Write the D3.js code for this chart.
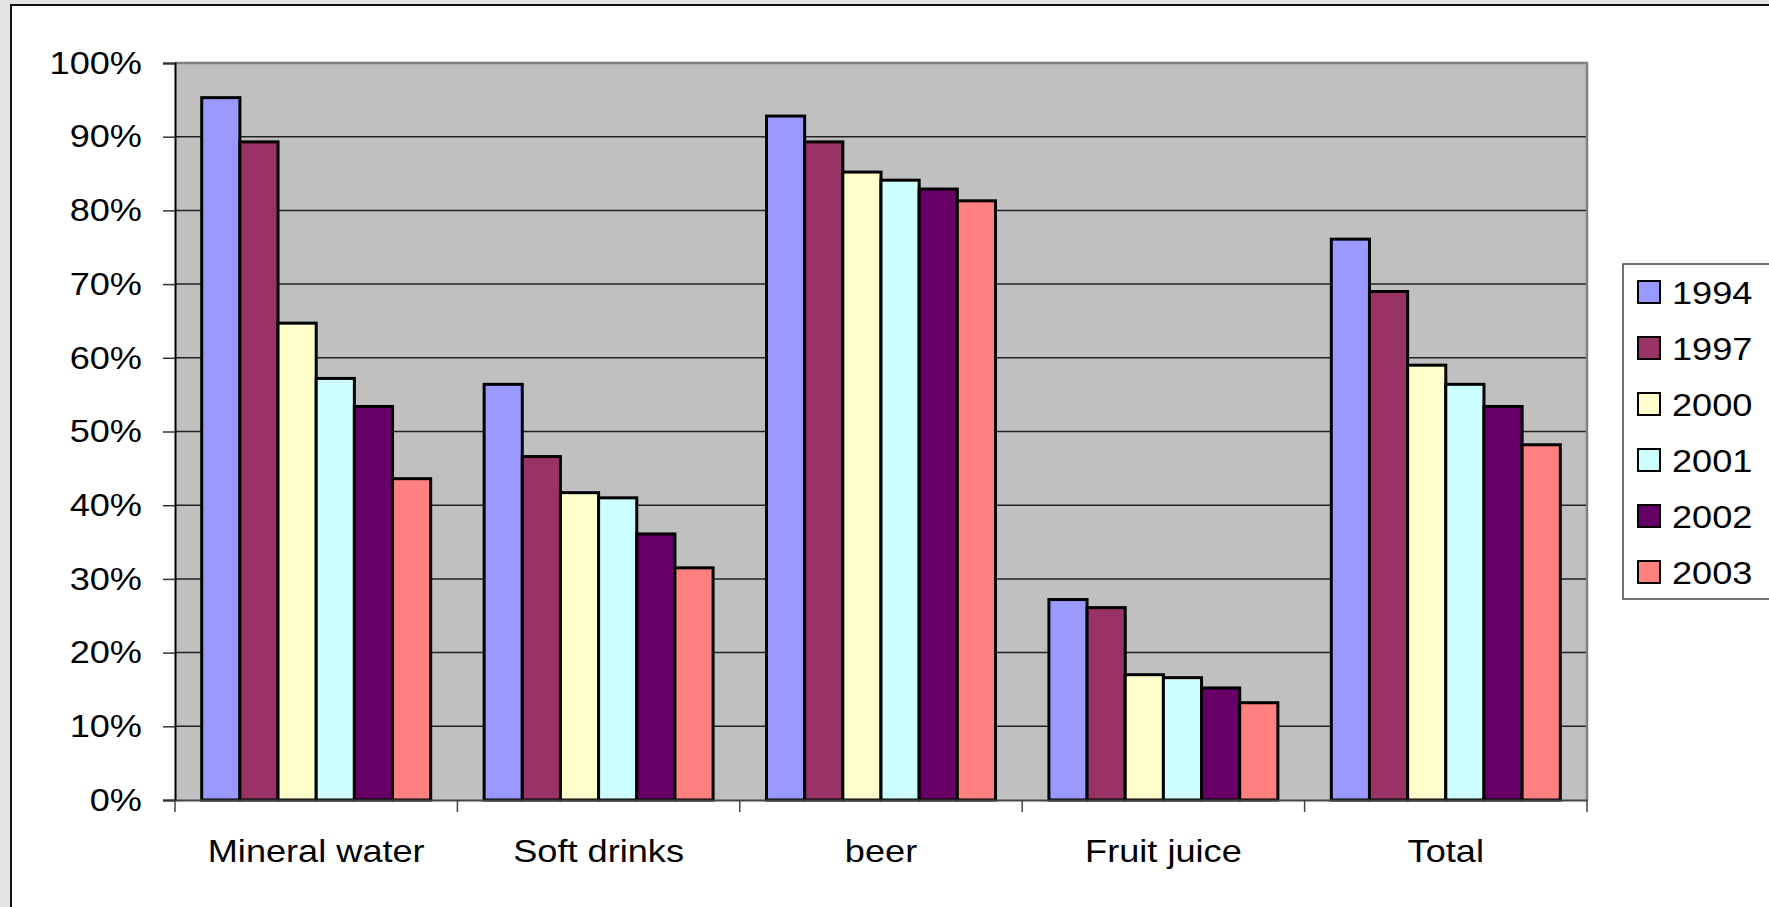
<!DOCTYPE html>
<html>
<head>
<meta charset="utf-8">
<script src="https://cdn.jsdelivr.net/npm/d3@7"></script>
<style>
  html, body { margin: 0; padding: 0; background: #e6e3e3; overflow: hidden; }
  text { font-family: "Liberation Sans", Arial, sans-serif; fill: #000; }
</style>
</head>
<body>
<svg id="chart" width="1769" height="907"></svg>
<script>
const categories = ['Mineral water', 'Soft drinks', 'beer', 'Fruit juice', 'Total'];
const years = ['1994', '1997', '2000', '2001', '2002', '2003'];
const colors = ['#9999ff', '#993366', '#ffffcc', '#ccffff', '#660066', '#ff8080'];

// percent per year, in category order
const v1994 = [95.3, 56.4, 92.8, 27.2, 76.1];
const v1997 = [89.3, 46.6, 89.3, 26.1, 69.0];
const v2000 = [64.7, 41.7, 85.2, 17.0, 59.0];
const v2001 = [57.2, 41.0, 84.1, 16.6, 56.4];
const v2002 = [53.4, 36.1, 82.9, 15.2, 53.4];
const v2003 = [43.6, 31.5, 81.3, 13.2, 48.2];
const series = [v1994, v1997, v2000, v2001, v2002, v2003];

const yTicks = [0, 10, 20, 30, 40, 50, 60, 70, 80, 90, 100];

// the source text is a bit wider than plain Arial
const stretch = 1.13;

const svg = d3.select('#chart');

// white chart area with dark border
svg.append('rect')
  .attr('x', 11).attr('y', 5)
  .attr('width', 1769).attr('height', 920)
  .attr('fill', '#fff')
  .attr('stroke', '#111')
  .attr('stroke-width', 2);

const plot = { left: 175, right: 1587, top: 63, bottom: 800 };

const x0 = d3.scaleBand()
  .domain(categories)
  .range([plot.left, plot.right]);

const x1 = d3.scaleBand()
  .domain(years)
  .range([0, x0.bandwidth()])
  .paddingOuter(0.7)
  .paddingInner(0);

const y = d3.scaleLinear()
  .domain([0, 100])
  .range([plot.bottom, plot.top]);

// plot background
svg.append('rect')
  .attr('x', plot.left).attr('y', plot.top)
  .attr('width', plot.right - plot.left)
  .attr('height', plot.bottom - plot.top)
  .attr('fill', '#c0c0c0');

// gridlines
svg.append('g')
  .selectAll('line')
  .data(yTicks.filter(d => d > 0 && d < 100))
  .join('line')
  .attr('x1', plot.left).attr('x2', plot.right)
  .attr('y1', d => y(d)).attr('y2', d => y(d))
  .attr('stroke', '#222')
  .attr('stroke-width', 1.5);

// plot border top & right
svg.append('path')
  .attr('d', `M${plot.left},${plot.top}H${plot.right}V${plot.bottom}`)
  .attr('fill', 'none')
  .attr('stroke', '#808080')
  .attr('stroke-width', 2.5);

// bars
const groups = svg.append('g')
  .selectAll('g')
  .data(categories)
  .join('g')
  .attr('transform', d => `translate(${x0(d)},0)`);

groups.selectAll('rect')
  .data((d, i) => years.map((yr, j) => ({ yr, j, v: series[j][i] })))
  .join('rect')
  .attr('x', d => x1(d.yr))
  .attr('y', d => y(d.v))
  .attr('width', x1.bandwidth())
  .attr('height', d => y(0) - y(d.v))
  .attr('fill', d => colors[d.j])
  .attr('stroke', '#000')
  .attr('stroke-width', 3);

function widen(sel) {
  sel.each(function () {
    const t = d3.select(this);
    const tx = +t.attr('x') || 0;
    const ty = +t.attr('y') || 0;
    t.attr('x', 0).attr('y', 0)
      .attr('transform', `translate(${tx},${ty}) scale(${stretch},1)`);
  });
}

// y axis
const yAxis = svg.append('g')
  .attr('transform', `translate(${plot.left},0)`)
  .call(d3.axisLeft(y).tickValues(yTicks).tickFormat(d => d + '%').tickSize(12).tickPadding(21));
yAxis.select('.domain').attr('stroke', '#000').attr('stroke-width', 2);
yAxis.selectAll('.tick line').attr('stroke', '#333').attr('stroke-width', 1.5);
yAxis.selectAll('text').attr('font-size', 32).attr('font-family', '"Liberation Sans", Arial, sans-serif');
widen(yAxis.selectAll('text'));

// x axis
const xAxis = svg.append('g')
  .attr('transform', `translate(0,${plot.bottom})`)
  .call(d3.axisBottom(x0).tickSize(0).tickPadding(38));
xAxis.select('.domain').attr('stroke', '#444').attr('stroke-width', 2);
xAxis.selectAll('text').attr('font-size', 32).attr('dy', '0.75em').attr('font-family', '"Liberation Sans", Arial, sans-serif');
widen(xAxis.selectAll('text'));

// category separator ticks
svg.append('g')
  .selectAll('line')
  .data(d3.range(categories.length + 1))
  .join('line')
  .attr('x1', i => plot.left + i * x0.step())
  .attr('x2', i => plot.left + i * x0.step())
  .attr('y1', plot.bottom).attr('y2', plot.bottom + 12)
  .attr('stroke', '#444')
  .attr('stroke-width', 1.5);

// legend
const legend = svg.append('g').attr('transform', 'translate(1623,264)');
legend.append('rect')
  .attr('width', 150).attr('height', 335)
  .attr('fill', '#fff')
  .attr('stroke', '#444')
  .attr('stroke-width', 1.5);

const items = legend.selectAll('g.item')
  .data(years)
  .join('g')
  .attr('class', 'item')
  .attr('transform', (d, i) => `translate(0,${28 + i * 56})`);

items.append('rect')
  .attr('x', 15).attr('y', -11)
  .attr('width', 22).attr('height', 22)
  .attr('fill', (d, i) => colors[i])
  .attr('stroke', '#000')
  .attr('stroke-width', 2);

items.append('text')
  .attr('x', 49)
  .attr('dy', '0.36em')
  .attr('font-size', 32)
  .text(d => d);
widen(items.selectAll('text'));
</script>
</body>
</html>
